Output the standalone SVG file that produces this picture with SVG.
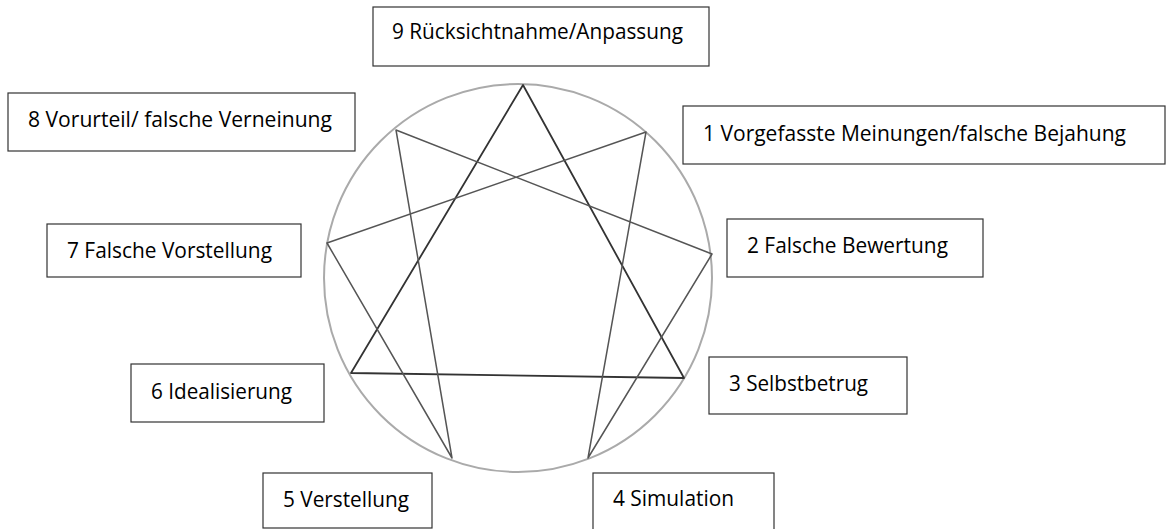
<svg xmlns="http://www.w3.org/2000/svg" width="1166" height="529" viewBox="0 0 1166 529">
<style>
.box{fill:#fff;stroke:#333;stroke-width:1.2}
.lbl{font-family:"Open Sans","Noto Sans","Liberation Sans",sans-serif;font-size:21px;fill:#000}
.circ{fill:none;stroke:#aaa;stroke-width:2}
.hex{fill:none;stroke:#555;stroke-width:1.5;stroke-linejoin:round}
.tri{fill:none;stroke:#333;stroke-width:1.8;stroke-linejoin:round}
</style>
<rect width="1166" height="529" fill="#fff"/>
<g id="connectors">
<circle class="circ" cx="518" cy="278" r="194"/>
<polygon class="tri" points="523,85 684,378 351,373"/>
<polygon class="hex" points="646,132 588,458 712,254 396,130 452,458 327,243"/>
</g>
<g id="node9"><rect class="box" x="373" y="7" width="336" height="59"/><text class="lbl" x="392" y="39" textLength="291" lengthAdjust="spacingAndGlyphs">9 Rücksichtnahme/Anpassung</text></g>
<g id="node8"><rect class="box" x="8" y="93" width="347" height="58"/><text class="lbl" x="28" y="127" textLength="304" lengthAdjust="spacingAndGlyphs">8 Vorurteil/ falsche Verneinung</text></g>
<g id="node7"><rect class="box" x="47" y="224" width="254" height="53"/><text class="lbl" x="67" y="258" textLength="205" lengthAdjust="spacingAndGlyphs">7 Falsche Vorstellung</text></g>
<g id="node1"><rect class="box" x="683" y="106" width="482" height="58"/><text class="lbl" x="703" y="141" textLength="423" lengthAdjust="spacingAndGlyphs">1 Vorgefasste Meinungen/falsche Bejahung</text></g>
<g id="node2"><rect class="box" x="727" y="219" width="256" height="58"/><text class="lbl" x="747" y="253" textLength="201" lengthAdjust="spacingAndGlyphs">2 Falsche Bewertung</text></g>
<g id="node6"><rect class="box" x="131" y="364" width="193" height="58"/><text class="lbl" x="151" y="399" textLength="141" lengthAdjust="spacingAndGlyphs">6 Idealisierung</text></g>
<g id="node5"><rect class="box" x="263" y="473" width="169" height="55"/><text class="lbl" x="283" y="507" textLength="126" lengthAdjust="spacingAndGlyphs">5 Verstellung</text></g>
<g id="node3"><rect class="box" x="709" y="357" width="198" height="57"/><text class="lbl" x="729" y="391" textLength="139" lengthAdjust="spacingAndGlyphs">3 Selbstbetrug</text></g>
<g id="node4"><rect class="box" x="593" y="473" width="181" height="60"/><text class="lbl" x="613" y="506" textLength="121" lengthAdjust="spacingAndGlyphs">4 Simulation</text></g>
</svg>
